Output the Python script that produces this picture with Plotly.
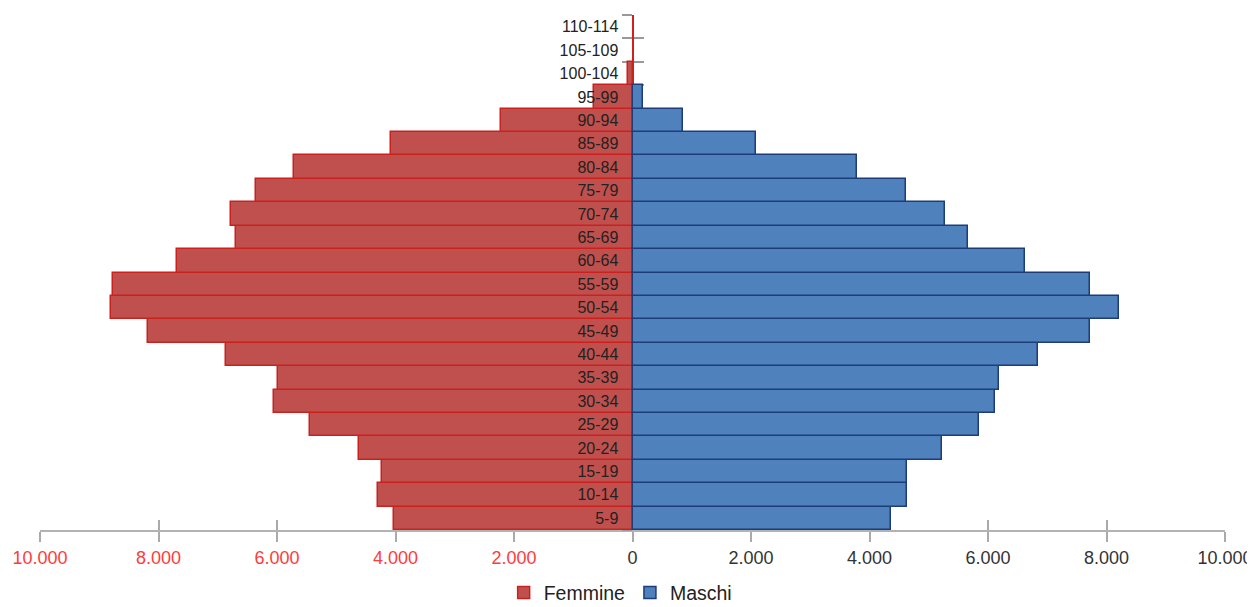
import plotly.graph_objects as go

categories = ["5-9", "10-14", "15-19", "20-24", "25-29", "30-34", "35-39", "40-44",
              "45-49", "50-54", "55-59", "60-64", "65-69", "70-74", "75-79", "80-84",
              "85-89", "90-94", "95-99", "100-104", "105-109", "110-114"]
femmine = [4030, 4290, 4225, 4615, 5450, 6055, 5980, 6865, 8185, 8800, 8770, 7680,
           6695, 6770, 6350, 5720, 4075, 2215, 650, 70, 0, 0]
maschi = [4365, 4635, 4635, 5225, 5840, 6110, 6180, 6840, 7720, 8215, 7720, 6625,
          5670, 5280, 4620, 3785, 2090, 860, 180, 0, 0, 0]
tick_values = [-10000, -8000, -6000, -4000, -2000, 0, 2000, 4000, 6000, 8000, 10000]
tick_labels = ["10.000", "8.000", "6.000", "4.000", "2.000", "0",
               "2.000", "4.000", "6.000", "8.000", "10.000"]

FONT = "Liberation Sans, Arial, sans-serif"
RED_TXT = "#ff3b3b"
DARK_TXT = "#333333"

tick_text = [
    (f'<span style="color:{RED_TXT}">{t}</span>' if v < 0 else t)
    for v, t in zip(tick_values, tick_labels)
]

fig = go.Figure()
fig.add_trace(go.Bar(
    name="Femmine", y=categories, x=[-v for v in femmine], orientation="h",
    marker=dict(color="#c0504d",
                line=dict(color="#c9211e", width=[1.5 if v > 0 else 0 for v in femmine])),
    hoverinfo="skip",
))
fig.add_trace(go.Bar(
    name="Maschi", y=categories, x=maschi, orientation="h",
    marker=dict(color="#4f81bd",
                line=dict(color="#1e3c78", width=[1.5 if v > 0 else 0 for v in maschi])),
    hoverinfo="skip",
))
# invisible helpers carrying the categories for the tick-mark axes
for ya in ("y2", "y3"):
    fig.add_trace(go.Scatter(
        y=categories, x=[0] * len(categories), yaxis=ya, xaxis="x",
        mode="markers", marker=dict(opacity=0), showlegend=False, hoverinfo="skip",
    ))
fig.add_trace(go.Scatter(
    y=categories, x=[0] * len(categories), yaxis="y", xaxis="x2",
    mode="markers", marker=dict(opacity=0), showlegend=False, hoverinfo="skip",
))

yrange = [-0.5, len(categories) - 0.5]
fig.update_layout(
    width=1247, height=599,
    margin=dict(l=32, r=30, t=7, b=77, autoexpand=False),
    paper_bgcolor="white", plot_bgcolor="white",
    barmode="overlay", bargap=0,
    font=dict(family=FONT, color=DARK_TXT),
    showlegend=True,
    legend=dict(orientation="h", x=0.49, xanchor="center", y=-0.122, yanchor="middle",
                font=dict(size=19.5, color="#222222", family=FONT), traceorder="normal",
                itemwidth=30, tracegroupgap=0),
    xaxis=dict(
        range=[-10000, 10000], tickvals=tick_values, ticktext=tick_text,
        ticks="outside", ticklen=10, tickwidth=1.5, tickcolor="#aaaaaa",
        showline=True, linecolor="#b3b3b3", linewidth=1.5,
        showgrid=False, zeroline=False, layer="below traces",
        tickfont=dict(size=18, color=DARK_TXT), ticklabelstandoff=1,
        automargin=False, fixedrange=True,
    ),
    xaxis2=dict(
        overlaying="x", anchor="y", side="bottom",
        range=[-10000, 10000], tickvals=tick_values, showticklabels=False,
        ticks="inside", ticklen=10, tickwidth=1.5, tickcolor="#aaaaaa",
        showline=False, showgrid=False, zeroline=False, layer="below traces",
        automargin=False,
    ),
    yaxis=dict(
        type="category", categoryorder="array", categoryarray=categories,
        range=yrange, anchor="free", position=0.5,
        ticks="outside", ticklen=11, tickcolor="rgba(0,0,0,0)",
        showline=False, showgrid=False, zeroline=False,
        tickfont=dict(size=16, color="#222222"), layer="above traces",
        automargin=False,
    ),
    yaxis2=dict(
        type="category", categoryorder="array", categoryarray=categories,
        range=yrange, overlaying="y", anchor="free", position=0.5,
        tickson="boundaries", ticks="outside", ticklen=10, tickwidth=1.5,
        tickcolor="#999999", showticklabels=False,
        showline=True, linecolor="#d22020", linewidth=1.5,
        showgrid=False, zeroline=False, layer="below traces", automargin=False,
    ),
    yaxis3=dict(
        type="category", categoryorder="array", categoryarray=categories,
        range=yrange, overlaying="y", anchor="free", position=0.5,
        tickson="boundaries", ticks="inside", ticklen=10, tickwidth=1.5,
        tickcolor="#999999", showticklabels=False,
        showline=False, showgrid=False, zeroline=False, layer="below traces",
        automargin=False,
    ),
)

fig.write_html("out.html")
